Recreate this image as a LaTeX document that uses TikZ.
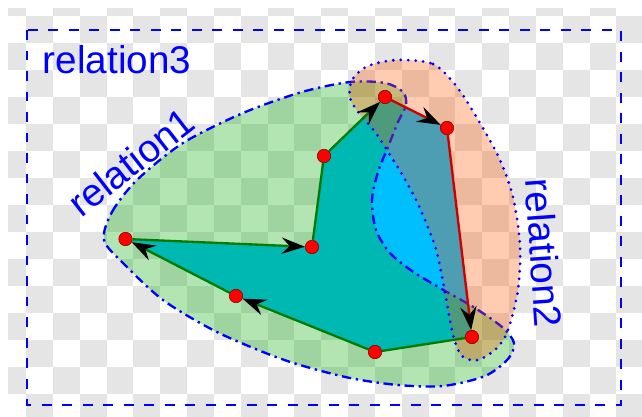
\documentclass[tikz,border=0pt]{standalone}
\usepackage{fontspec}
\setmainfont{Liberation Sans}
\usetikzlibrary{arrows.meta}
\definecolor{skyfill}{RGB}{0,191,255}
\definecolor{relgreen}{RGB}{0,170,0}
\definecolor{relorange}{RGB}{255,85,0}
\definecolor{edgegreen}{RGB}{0,125,0}
\definecolor{edgered}{RGB}{204,0,0}
\definecolor{checker}{RGB}{229,229,229}

\begin{document}
\begin{tikzpicture}[x=0.03cm, y=-0.03cm,
  vtx/.style={circle, fill=red, draw=red!50!black, line width=0.5pt, minimum size=11.5pt, inner sep=0pt},
  lbl/.style={text=blue, font=\fontsize{33}{36}\selectfont, inner sep=0pt},
  ge/.style={draw=edgegreen, line width=2pt},
  re/.style={draw=edgered, line width=2pt},
  arr/.style={-{Stealth[length=20pt, width=14pt, inset=7pt, black]}},
  rel1/.style={fill=relgreen, fill opacity=0.3, draw=blue, line width=2pt, dash pattern=on 8pt off 4pt on 2pt off 4pt},
  rel2/.style={fill=relorange, fill opacity=0.3, draw=blue, line width=2.6pt, line cap=round, dash pattern=on 0pt off 6.4pt},
  rel3/.style={draw=blue, line width=2pt, dash pattern=on 8.5pt off 9pt}
]
\useasboundingbox (0,0) rectangle (642,416);

% transparency checkerboard
\begin{scope}
\clip (8,8) rectangle (642,416);
\foreach \r in {0,...,15}{
  \foreach \c in {0,2,...,24}{
    \pgfmathsetmacro\xx{-0.84+26.84*(\c+mod(\r,2))}
    \pgfmathsetmacro\yy{-11.5+27*\r}
    \fill[checker] (\xx,\yy) rectangle ++(26.84,27);
  }
}
\end{scope}

\coordinate (pA) at (125.5,239);
\coordinate (pB) at (312,247);
\coordinate (pC) at (324,156);
\coordinate (pD) at (385,97);
\coordinate (pE) at (447,128);
\coordinate (pF) at (472,337);
\coordinate (pG) at (375,352);
\coordinate (pH) at (236,296);

\fill[skyfill] (pA) -- (pB) -- (pC) -- (pD) -- (pE) -- (pF) -- (pG) -- (pH) -- cycle;

% relation1
\draw[rel1] plot[smooth cycle] coordinates {(104,240) (112,212) (137,180) (183,143) (243,113) (302,92) (350,82) (385,83) (403,92) (406,105) (398,122) (388,147) (378,172) (372,200) (376,230) (390,253) (412,271) (440,288) (475,308) (502,327) (514,343) (508,359) (485,376) (443,386) (398,385) (350,378) (300,365) (263,352) (213,330) (163,300) (124,264)};
% relation2
\draw[rel2] plot[smooth cycle] coordinates {(397,60) (433,64) (457,87) (480,123) (500,160) (513,197) (520,245) (518,290) (508,330) (497,348) (478,360) (462,356) (453,335) (445,293) (437,253) (427,225) (416,200) (403,176) (390,155) (375,132) (359,113) (350,98) (352,80) (368,66)};
% relation3
\draw[rel3] (27,30) rectangle (621,405);

\node[vtx] (A) at (pA) {};
\node[vtx] (B) at (pB) {};
\node[vtx] (C) at (pC) {};
\node[vtx] (D) at (pD) {};
\node[vtx] (E) at (pE) {};
\node[vtx] (F) at (pF) {};
\node[vtx] (G) at (pG) {};
\node[vtx] (H) at (pH) {};

\draw[ge, arr] (A) -- (B);
\draw[ge] (B) -- (C);
\draw[ge, arr] (C) -- (D);
\draw[re, arr] (D) -- (E);
\draw[re, arr] (E) -- (F);
\draw[ge] (F) -- (G);
\draw[ge, arr] (G) -- (H);
\draw[ge, arr] (H) -- (A);

\node[lbl] (l3) at (117,60) {relation3};
\node[lbl, rotate=38] (l1) at (131,162) {relation1};
\node[lbl, rotate=-86] (l2) at (544,253) {relation2};

\end{tikzpicture}
\end{document}
